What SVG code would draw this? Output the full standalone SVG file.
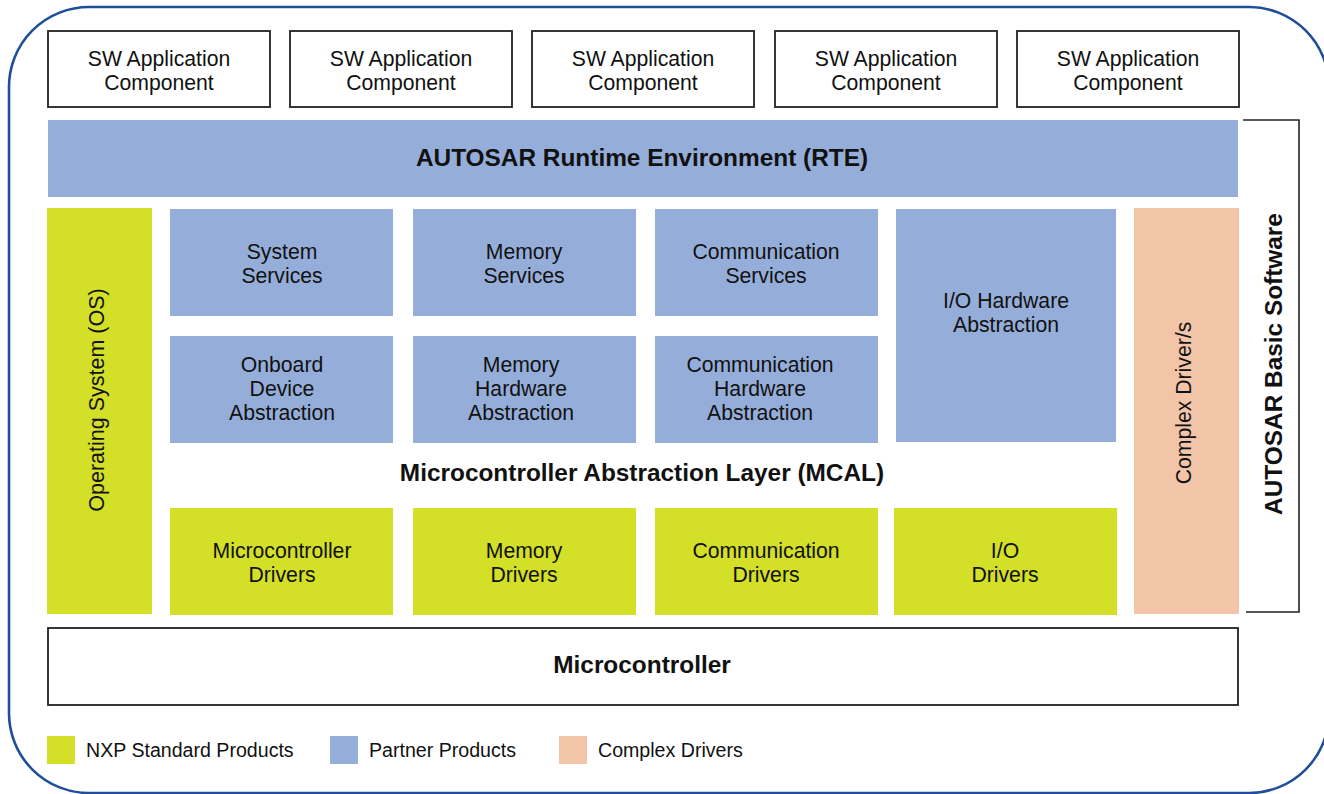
<svg xmlns="http://www.w3.org/2000/svg" width="1324" height="794" viewBox="0 0 1324 794">
<style>
.t{font-family:"Liberation Sans",Arial,sans-serif;font-size:21.2px;fill:#111;text-anchor:middle}
.b{font-family:"Liberation Sans",Arial,sans-serif;font-size:24.4px;font-weight:bold;fill:#111;text-anchor:middle}
.lg{font-family:"Liberation Sans",Arial,sans-serif;font-size:19.6px;fill:#111}
.box{fill:#fff;stroke:#222;stroke-width:1.8}
.blue{fill:#95aed9}
.green{fill:#d4df27}
.peach{fill:#f2c4a8}
</style>
<rect x="9" y="7" width="1320" height="786" rx="80" ry="80" fill="#fff" stroke="#1f4e9c" stroke-width="2.6"/>
<g id="swc1"><rect class="box" x="48" y="31" width="222" height="76"/><text class="t" x="159" y="66">SW Application</text><text class="t" x="159" y="90">Component</text></g>
<g id="swc2"><rect class="box" x="290" y="31" width="222" height="76"/><text class="t" x="401" y="66">SW Application</text><text class="t" x="401" y="90">Component</text></g>
<g id="swc3"><rect class="box" x="532" y="31" width="222" height="76"/><text class="t" x="643" y="66">SW Application</text><text class="t" x="643" y="90">Component</text></g>
<g id="swc4"><rect class="box" x="775" y="31" width="222" height="76"/><text class="t" x="886" y="66">SW Application</text><text class="t" x="886" y="90">Component</text></g>
<g id="swc5"><rect class="box" x="1017" y="31" width="222" height="76"/><text class="t" x="1128" y="66">SW Application</text><text class="t" x="1128" y="90">Component</text></g>
<g id="rte"><rect class="blue" x="48" y="120" width="1190" height="77"/><text class="b" x="642" y="166">AUTOSAR Runtime Environment (RTE)</text></g>
<g id="os"><rect class="green" x="47" y="208" width="105" height="406"/><text class="t" transform="translate(104,400) rotate(-90)" style="font-size:21.5px">Operating System (OS)</text></g>
<g id="sys"><rect class="blue" x="170" y="209" width="223" height="107"/><text class="t" x="282" y="259">System</text><text class="t" x="282" y="283">Services</text></g>
<g id="mem"><rect class="blue" x="413" y="209" width="223" height="107"/><text class="t" x="524" y="259">Memory</text><text class="t" x="524" y="283">Services</text></g>
<g id="com"><rect class="blue" x="655" y="209" width="223" height="107"/><text class="t" x="766" y="259">Communication</text><text class="t" x="766" y="283">Services</text></g>
<g id="ioh"><rect class="blue" x="896" y="209" width="220" height="233"/><text class="t" x="1006" y="308">I/O Hardware</text><text class="t" x="1006" y="332">Abstraction</text></g>
<g id="onb"><rect class="blue" x="170" y="336" width="223" height="107"/><text class="t" x="282" y="372">Onboard</text><text class="t" x="282" y="396">Device</text><text class="t" x="282" y="420">Abstraction</text></g>
<g id="memh"><rect class="blue" x="413" y="336" width="223" height="107"/><text class="t" x="521" y="372">Memory</text><text class="t" x="521" y="396">Hardware</text><text class="t" x="521" y="420">Abstraction</text></g>
<g id="comh"><rect class="blue" x="655" y="336" width="223" height="107"/><text class="t" x="760" y="372">Communication</text><text class="t" x="760" y="396">Hardware</text><text class="t" x="760" y="420">Abstraction</text></g>
<g id="mcal"><text class="b" x="642" y="481">Microcontroller Abstraction Layer (MCAL)</text></g>
<g id="mcud"><rect class="green" x="170" y="508" width="223" height="107"/><text class="t" x="282" y="558">Microcontroller</text><text class="t" x="282" y="582">Drivers</text></g>
<g id="memd"><rect class="green" x="413" y="508" width="223" height="107"/><text class="t" x="524" y="558">Memory</text><text class="t" x="524" y="582">Drivers</text></g>
<g id="comd"><rect class="green" x="655" y="508" width="223" height="107"/><text class="t" x="766" y="558">Communication</text><text class="t" x="766" y="582">Drivers</text></g>
<g id="iod"><rect class="green" x="894" y="508" width="223" height="107"/><text class="t" x="1005" y="558">I/O</text><text class="t" x="1005" y="582">Drivers</text></g>
<g id="cdd"><rect class="peach" x="1134" y="208" width="105" height="406"/><text class="t" transform="translate(1191,403) rotate(-90)">Complex Driver/s</text></g>
<g id="bsw"><path d="M1243,120 H1299 V612 H1246" fill="none" stroke="#222" stroke-width="1.6"/><text class="b" transform="translate(1282,364) rotate(-90)">AUTOSAR Basic Software</text></g>
<g id="mcu"><rect class="box" x="48" y="628" width="1190" height="77"/><text class="b" x="642" y="673">Microcontroller</text></g>
<g id="legend">
<rect class="green" x="47" y="736" width="28" height="28"/><text class="lg" x="86" y="757">NXP Standard Products</text>
<rect class="blue" x="330" y="736" width="28" height="28"/><text class="lg" x="369" y="757">Partner Products</text>
<rect class="peach" x="559" y="736" width="28" height="28"/><text class="lg" x="598" y="757">Complex Drivers</text>
</g>
<g id="connectors"/>
</svg>
